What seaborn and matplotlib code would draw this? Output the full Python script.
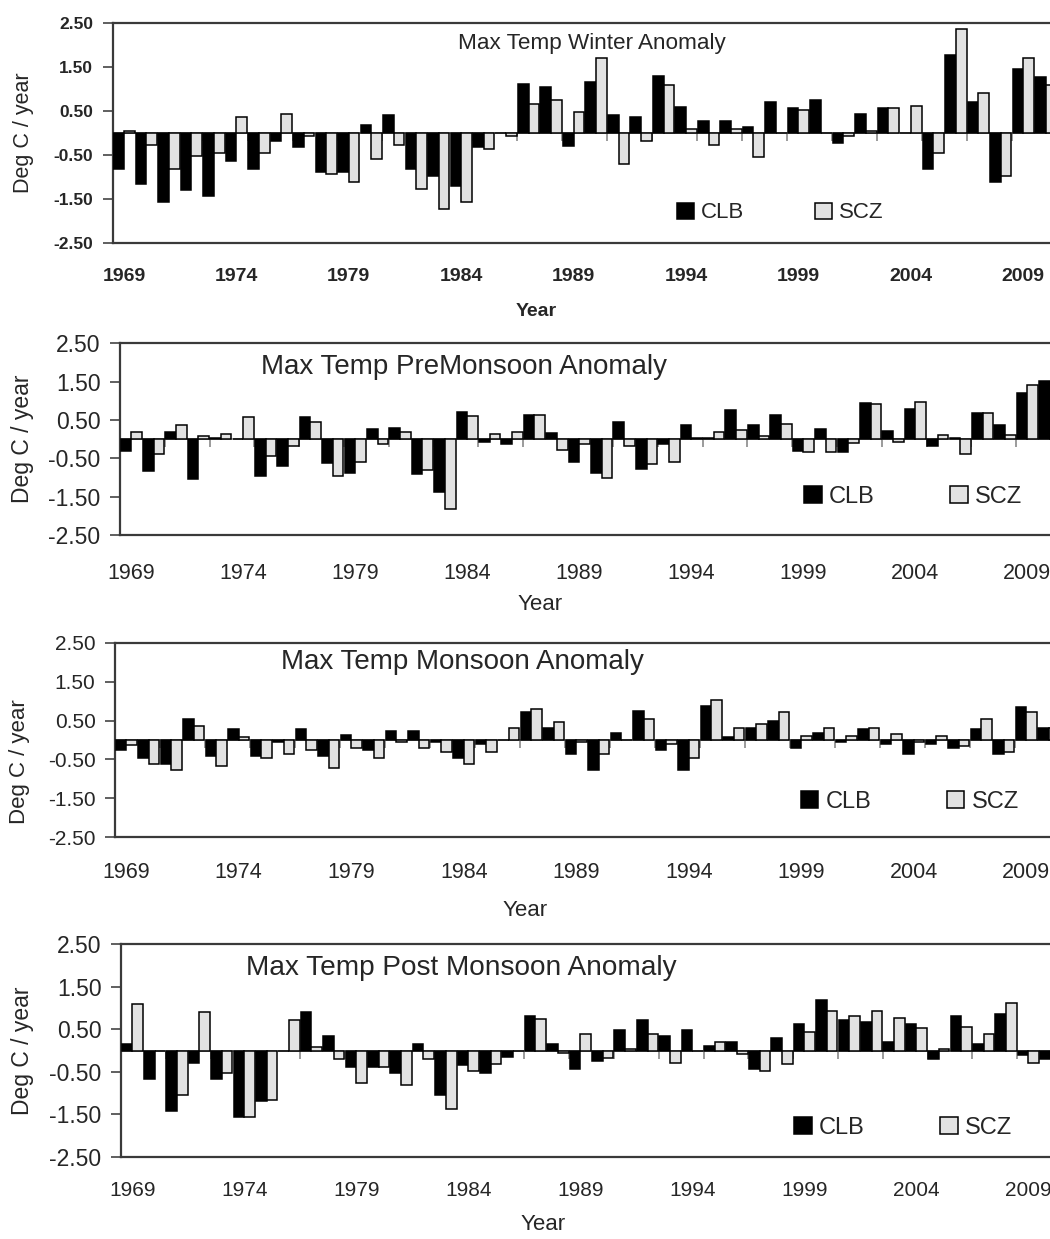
import numpy as np
import pandas as pd
import matplotlib
matplotlib.use("Agg")
import matplotlib.pyplot as plt
import seaborn as sns

# ---------- data ----------
years = list(range(1969, 2011))
stations = ["CLB", "SCZ"]

winter_clb = [-0.80, -1.15, -1.55, -1.29, -1.42, -0.63, -0.80, -0.18, -0.32, -0.89,
              -0.89, 0.19, 0.41, -0.80, -0.98, -1.20, -0.32, 0.00, 1.11, 1.06,
              -0.28, 1.16, 0.41, 0.37, 1.30, 0.59, 0.28, 0.28, 0.15, 0.72,
              0.58, 0.76, -0.22, 0.45, 0.58, 0.00, -0.80, 1.77, 0.72, -1.11,
              1.46, 1.29]
winter_scz = [0.05, -0.27, -0.80, -0.52, -0.44, 0.36, -0.44, 0.45, -0.05, -0.92,
              -1.10, -0.58, -0.27, -1.27, -1.72, -1.55, -0.36, -0.06, 0.67, 0.76,
              0.48, 1.71, -0.70, -0.17, 1.10, 0.10, -0.27, 0.10, -0.54, 0.00,
              0.54, 0.00, -0.05, 0.05, 0.58, 0.62, -0.45, 2.37, 0.92, -0.96,
              1.71, 1.10]

premon_clb = [-0.30, -0.83, 0.19, -1.03, 0.04, 0.00, -0.97, -0.71, 0.57, -0.62,
              -0.87, 0.26, 0.30, -0.92, -1.39, 0.72, -0.08, -0.13, 0.62, 0.15,
              -0.60, -0.87, 0.46, -0.77, -0.13, 0.36, 0.04, 0.77, 0.36, 0.62,
              -0.30, 0.26, -0.34, 0.94, 0.20, 0.78, -0.19, 0.04, 0.67, 0.36,
              1.20, 1.52]
premon_scz = [0.19, -0.40, 0.36, 0.09, 0.14, 0.57, -0.43, -0.17, 0.46, -0.96,
              -0.59, -0.12, 0.19, -0.81, -1.81, 0.61, 0.14, 0.19, 0.62, -0.29,
              -0.12, -1.02, -0.17, -0.64, -0.60, 0.04, 0.18, 0.24, 0.09, 0.40,
              -0.34, -0.34, -0.09, 0.92, -0.08, 0.98, 0.10, -0.39, 0.67, 0.10,
              1.40, 1.30]

monsoon_clb = [-0.26, -0.47, -0.62, 0.53, -0.42, 0.27, -0.42, -0.06, 0.27, -0.42,
               0.12, -0.26, 0.22, 0.22, -0.06, -0.47, -0.10, 0.00, 0.73, 0.32,
               -0.37, -0.77, 0.17, 0.74, -0.26, -0.77, 0.88, 0.08, 0.32, 0.48,
               -0.21, 0.17, -0.06, 0.27, -0.11, -0.37, -0.11, -0.21, 0.27, -0.37,
               0.84, 0.32]
monsoon_scz = [-0.14, -0.62, -0.77, 0.37, -0.67, 0.08, -0.46, -0.36, -0.26, -0.72,
               -0.20, -0.46, -0.06, -0.20, -0.30, -0.62, -0.31, 0.32, 0.79, 0.47,
               -0.06, -0.36, 0.00, 0.53, -0.09, -0.46, 1.03, 0.32, 0.42, 0.73,
               0.11, 0.32, 0.11, 0.32, 0.16, -0.06, 0.11, -0.15, 0.53, -0.31,
               0.73, 0.30]

postmon_clb = [0.16, -0.67, -1.42, -0.29, -0.67, -1.57, -1.19, 0.00, 0.90, 0.35,
               -0.39, -0.39, -0.53, 0.16, -1.04, -0.34, -0.53, -0.16, 0.82, 0.16,
               -0.43, -0.24, 0.49, 0.72, 0.35, 0.48, 0.11, 0.20, -0.43, 0.29,
               0.63, 1.19, 0.72, 0.67, 0.20, 0.63, -0.20, 0.82, 0.16, 0.86,
               -0.10, -0.20]
postmon_scz = [1.09, 0.00, -1.04, 0.90, -0.52, -1.57, -1.15, 0.71, 0.09, -0.20,
               -0.75, -0.38, -0.81, -0.20, -1.37, -0.48, -0.32, 0.00, 0.75, -0.05,
               0.38, -0.18, 0.05, 0.38, -0.28, 0.00, 0.20, -0.09, -0.48, -0.32,
               0.43, 0.94, 0.82, 0.94, 0.76, 0.53, 0.05, 0.56, 0.38, 1.13,
               -0.28, -0.10]

y_ticks = [-2.5, -1.5, -0.5, 0.5, 1.5, 2.5]
label_years = [1969, 1974, 1979, 1984, 1989, 1994, 1999, 2004, 2009]

# ---------- style ----------
sns.set_theme(style="white")
plt.rcParams["font.family"] = ["Liberation Sans Narrow", "Liberation Sans", "DejaVu Sans"]
plt.rcParams["axes.unicode_minus"] = False

palette = {"CLB": "#000000", "SCZ": "#e2e2e2"}

W, H = 1050, 1239
fig = plt.figure(figsize=(W / 100, H / 100), dpi=100)

# pixel boxes (left, top, right, bottom) and text positions per panel
panels = [
    dict(title="Max Temp Winter Anomaly", clb=winter_clb, scz=winter_scz,
         box=(112.7, 23.3, 1057, 243.3), title_xy=(592, 43), title_size=16.2,
         ylab_xy=(24, 133), xlab_xy=(536, 311), bold=True,
         ytick_size=12.5, xtick_size=14, xpad=18, ylab_size=15.5, xlab_size=14,
         leg_xy=(0.707, 0.138), leg_size=16),
    dict(title="Max Temp PreMonsoon Anomaly", clb=premon_clb, scz=premon_scz,
         box=(120, 343.3, 1061, 535), title_xy=(464, 367), title_size=20,
         ylab_xy=(22, 439), xlab_xy=(540, 605), bold=False,
         ytick_size=16.5, xtick_size=15.5, xpad=20, ylab_size=16.5, xlab_size=16,
         leg_xy=(0.843, 0.198), leg_size=17),
    dict(title="Max Temp Monsoon Anomaly", clb=monsoon_clb, scz=monsoon_scz,
         box=(115, 642.7, 1060, 837.3), title_xy=(462, 662), title_size=20,
         ylab_xy=(20, 762), xlab_xy=(525, 910), bold=False,
         ytick_size=15, xtick_size=15.5, xpad=18, ylab_size=16, xlab_size=16,
         leg_xy=(0.841, 0.183), leg_size=17),
    dict(title="Max Temp Post Monsoon Anomaly", clb=postmon_clb, scz=postmon_scz,
         box=(121, 944.3, 1062, 1157), title_xy=(461, 968), title_size=20.2,
         ylab_xy=(23, 1051), xlab_xy=(543, 1225), bold=False,
         ytick_size=16.5, xtick_size=15, xpad=17, ylab_size=16.5, xlab_size=16,
         leg_xy=(0.831, 0.137), leg_size=17),
]

for p in panels:
    l, t, r, b = p["box"]
    ax = fig.add_axes([l / W, 1 - b / H, (r - l) / W, (b - t) / H])

    df = pd.DataFrame({
        "Year": years * 2,
        "Station": ["CLB"] * len(years) + ["SCZ"] * len(years),
        "Anomaly": p["clb"] + p["scz"],
    })
    sns.barplot(data=df, x="Year", y="Anomaly", hue="Station", hue_order=stations,
                palette=palette, width=0.95, edgecolor="black", linewidth=1.1,
                errorbar=None, ax=ax, zorder=3)

    # zero line with small ticks every second category boundary
    px_per_unit = (b - t) / 5.0
    ax.axhline(0, color="#8a8a8a", lw=1.2, zorder=2)
    bounds = np.arange(-0.5, len(years), 2)
    ax.vlines(bounds, -8 / px_per_unit, 0, color="#8a8a8a", lw=1.2, zorder=2)

    ax.set_xlim(-0.5, len(years) - 0.5)
    ax.set_ylim(-2.5, 2.5)
    ax.set_yticks(y_ticks)
    weight = "bold" if p["bold"] else "normal"
    ax.set_yticklabels([f"{v:.2f}" for v in y_ticks], fontsize=p["ytick_size"], fontweight=weight)
    ax.set_xticks([years.index(y) for y in label_years])
    ax.set_xticklabels([str(y) for y in label_years], fontsize=p["xtick_size"], fontweight=weight)
    ax.tick_params(axis="x", length=0, pad=p["xpad"])
    ax.tick_params(axis="y", left=True, length=7, width=1.2, color="#444444", pad=7)
    ax.set_xlabel("")
    ax.set_ylabel("")

    for side in ["top", "bottom", "left"]:
        ax.spines[side].set_color("#3a3a3a")
        ax.spines[side].set_linewidth(1.6)
    ax.spines["right"].set_visible(False)

    handles, labels = ax.get_legend_handles_labels()
    ax.legend(handles, labels, ncol=2, frameon=False, loc="center",
              bbox_to_anchor=p["leg_xy"], fontsize=p["leg_size"],
              handlelength=0.75, handleheight=0.75, handletextpad=0.3,
              columnspacing=3.2)

    tx, ty = p["title_xy"]
    fig.text(tx / W, 1 - ty / H, p["title"], ha="center", va="center",
             fontsize=p["title_size"])
    yx, yy = p["ylab_xy"]
    fig.text(yx / W, 1 - yy / H, "Deg C / year", ha="center", va="center",
             rotation=90, fontsize=p["ylab_size"])
    xx, xy = p["xlab_xy"]
    fig.text(xx / W, 1 - xy / H, "Year", ha="center", va="center",
             fontsize=p["xlab_size"], fontweight=weight)

fig.savefig("out.png", dpi=100)
